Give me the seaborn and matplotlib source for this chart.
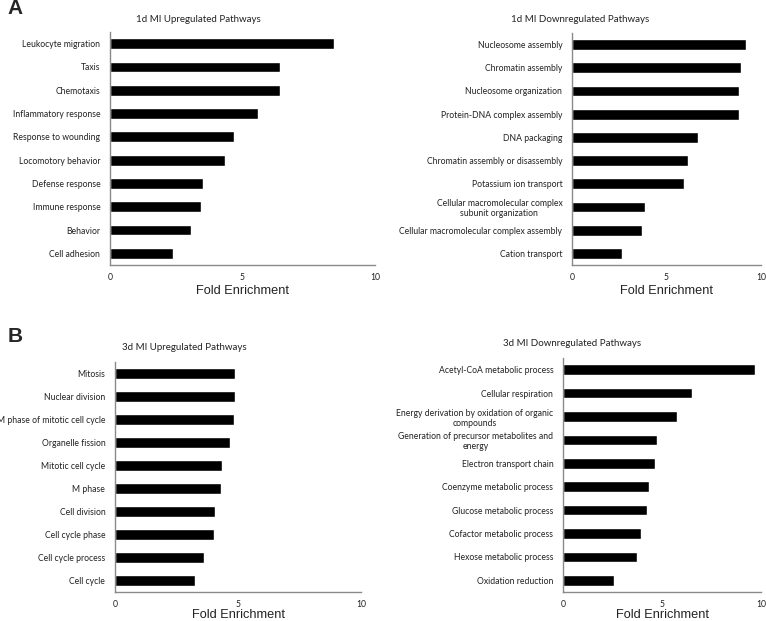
import matplotlib
matplotlib.use("Agg")
import matplotlib.pyplot as plt
import seaborn as sns

# Pathway names and fold enrichment values
up_1d_labels = ["Leukocyte migration", "Taxis", "Chemotaxis", "Inflammatory response",
                "Response to wounding", "Locomotory behavior", "Defense response",
                "Immune response", "Behavior", "Cell adhesion"]
up_1d_values = [8.45, 6.42, 6.42, 5.6, 4.68, 4.34, 3.5, 3.44, 3.04, 2.39]

down_1d_labels = ["Nucleosome assembly", "Chromatin assembly", "Nucleosome organization",
                  "Protein-DNA complex assembly", "DNA packaging",
                  "Chromatin assembly or disassembly", "Potassium ion transport",
                  "Cellular macromolecular complex\nsubunit organization",
                  "Cellular macromolecular complex assembly", "Cation transport"]
down_1d_values = [9.21, 8.96, 8.84, 8.84, 6.65, 6.16, 5.9, 3.84, 3.71, 2.62]

up_3d_labels = ["Mitosis", "Nuclear division", "M phase of mitotic cell cycle",
                "Organelle fission", "Mitotic cell cycle", "M phase", "Cell division",
                "Cell cycle phase", "Cell cycle process", "Cell cycle"]
up_3d_values = [4.86, 4.86, 4.83, 4.68, 4.33, 4.30, 4.07, 4.03, 3.61, 3.27]

down_3d_labels = ["Acetyl-CoA metabolic process", "Cellular respiration",
                  "Energy derivation by oxidation of organic\ncompounds",
                  "Generation of precursor metabolites and\nenergy",
                  "Electron transport chain", "Coenzyme metabolic process",
                  "Glucose metabolic process", "Cofactor metabolic process",
                  "Hexose metabolic process", "Oxidation reduction"]
down_3d_values = [9.71, 6.5, 5.75, 4.74, 4.67, 4.32, 4.22, 3.93, 3.75, 2.59]

sns.set_style("white")
plt.rcParams['font.family'] = ['Lato', 'DejaVu Sans']

W, H = 766, 621
fig = plt.figure(figsize=(W / 100, H / 100), dpi=100)


def px_axes(x0, y0, x1, y1):
    # axes from pixel box (top-left origin)
    return fig.add_axes([x0 / W, 1 - y1 / H, (x1 - x0) / W, (y1 - y0) / H])


panels = [
    (up_1d_labels, up_1d_values, (110, 32, 375, 265), "1d MI Upregulated Pathways", (198, 19), 291),
    (down_1d_labels, down_1d_values, (572, 33, 761, 265), "1d MI Downregulated Pathways", (580, 20), 291),
    (up_3d_labels, up_3d_values, (115, 362, 361, 592), "3d MI Upregulated Pathways", (184, 347), 615),
    (down_3d_labels, down_3d_values, (563, 358, 761, 592), "3d MI Downregulated Pathways", (572, 344), 615),
]

for labels, values, box, title, tpos, xl_y in panels:
    ax = px_axes(*box)
    sns.barplot(x=values, y=labels, orient="h", color="black", width=0.46,
                saturation=1, ax=ax)
    ax.set_xlim(0, 10)
    ax.set_xticks([0, 5, 10])
    ax.set_xlabel("")
    ax.set_ylabel("")
    ax.tick_params(axis="both", length=0, labelsize=6.2, colors="#222222")
    ax.tick_params(axis="y", pad=7)
    ax.tick_params(axis="x", pad=6)
    for lab in ax.get_yticklabels():
        lab.set_multialignment("center")
    for side in ["top", "right"]:
        ax.spines[side].set_visible(False)
    for side in ["left", "bottom"]:
        ax.spines[side].set_color("#8a8a8a")
        ax.spines[side].set_linewidth(1.0)
    fig.text(tpos[0] / W, 1 - tpos[1] / H, title, ha="center", va="center",
             fontsize=7, color="#222222")
    cx = (box[0] + box[2]) / 2
    fig.text(cx / W, 1 - xl_y / H, "Fold Enrichment", ha="center", va="center",
             fontsize=9.2, family="Liberation Sans", color="#222222")

fig.text(15 / W, 1 - 9 / H, "A", ha="center", va="center", fontsize=15,
         fontweight="bold", family="Liberation Sans")
fig.text(15 / W, 1 - 336 / H, "B", ha="center", va="center", fontsize=15,
         fontweight="bold", family="Liberation Sans")

fig.savefig("out.png", dpi=100)
